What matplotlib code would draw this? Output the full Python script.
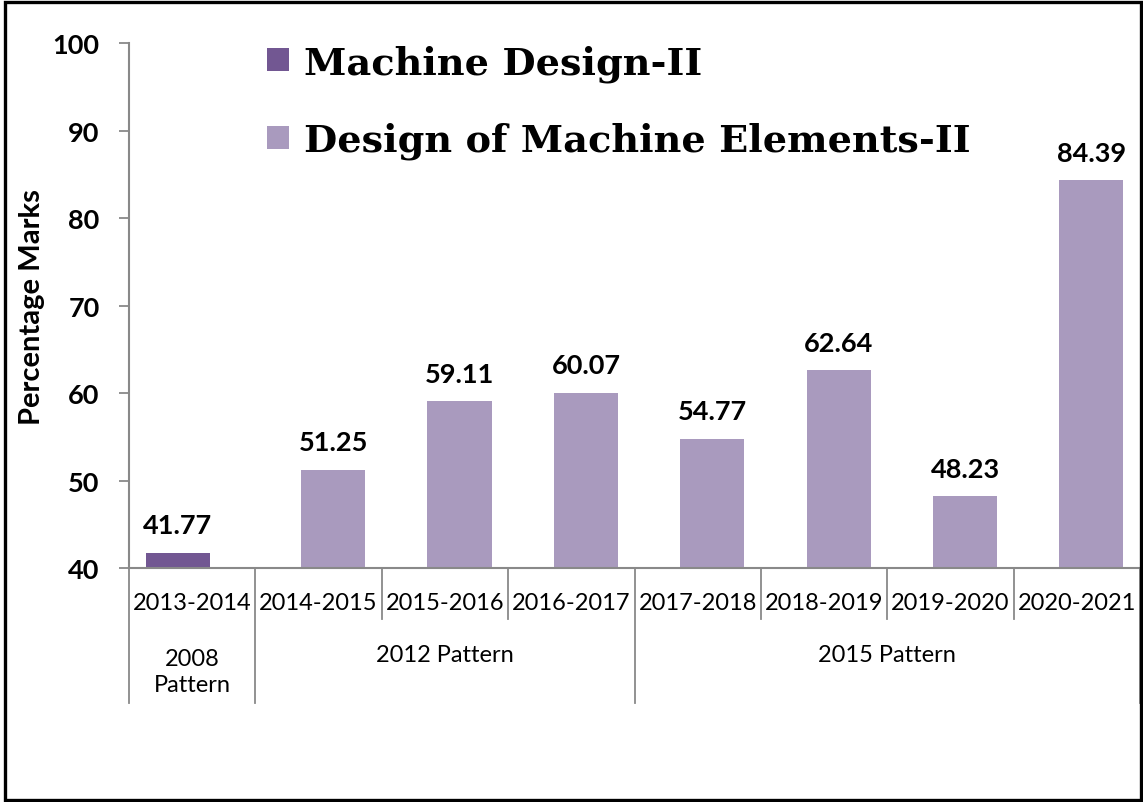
import matplotlib
matplotlib.use('Agg')
import matplotlib.pyplot as plt
import matplotlib.transforms as mtransforms
from matplotlib.patches import Rectangle
import numpy as np

plt.rcParams['font.family'] = ['Lato', 'DejaVu Sans']

# data
years = ['2013-2014', '2014-2015', '2015-2016', '2016-2017',
         '2017-2018', '2018-2019', '2019-2020', '2020-2021']
patterns = ['2008\nPattern', '2012 Pattern', '2015 Pattern']
pattern_sizes = [1, 3, 4]
md2_years = ['2013-2014']
md2_marks = [41.77]
dme2_years = ['2014-2015', '2015-2016', '2016-2017', '2017-2018',
              '2018-2019', '2019-2020', '2020-2021']
dme2_marks = [51.25, 59.11, 60.07, 54.77, 62.64, 48.23, 84.39]

DARK = '#725792'
LIGHT = '#A99ABE'
GRID = '#898989'

fig = plt.figure(figsize=(11.43, 8.03), dpi=100)
ax = fig.add_axes([0.1129, 0.2914, 0.8845, 0.6532])

bw = 0.507
off = 0.115
x_md = np.array([years.index(y) for y in md2_years])
x_dme = np.array([years.index(y) for y in dme2_years])
b1 = ax.bar(x_md - off, np.array(md2_marks) - 40, bw, bottom=40, color=DARK,
            label='Machine Design-II')
b2 = ax.bar(x_dme + off, np.array(dme2_marks) - 40, bw, bottom=40, color=LIGHT,
            label='Design of Machine Elements-II')

for xs, vals in ((x_md - off, md2_marks), (x_dme + off, dme2_marks)):
    for x, v in zip(xs, vals):
        ax.annotate(f'{v:.2f}', (x, v), xytext=(0, 14), textcoords='offset points',
                    ha='center', va='baseline', fontsize=19.5, fontweight='bold')

ax.set_xlim(-0.5, len(years) - 0.5)
ax.set_ylim(40, 100)
ax.set_yticks(range(40, 101, 10))
ax.tick_params(axis='y', length=7.2, width=1.3, color=GRID, pad=14,
               labelsize=19.5)
for lab in ax.get_yticklabels():
    lab.set_fontweight('bold')
ax.set_xticks([])
for s in ('top', 'right'):
    ax.spines[s].set_visible(False)
for s in ('left', 'bottom'):
    ax.spines[s].set_color(GRID)
    ax.spines[s].set_linewidth(1.5)

ax.set_ylabel('Percentage Marks', fontsize=21, fontweight='bold')
ax.yaxis.set_label_coords(-0.083, 0.5)

# category axis table below the plot
trans = mtransforms.blended_transform_factory(ax.transData, ax.transAxes)
row1 = -0.0972
row2 = -0.2574
for i, y in enumerate(years):
    ax.text(i, -0.065, y, transform=trans, ha='center', va='center', fontsize=17)
bounds = np.cumsum([0] + pattern_sizes) - 0.5
for i in range(len(years) + 1):
    xb = i - 0.5
    low = row2 if xb in bounds else row1
    ax.plot([xb, xb], [0, low], transform=trans, color=GRID, lw=1.3,
            clip_on=False)
for p, n, start in zip(patterns, pattern_sizes, bounds[:-1]):
    ax.text(start + n / 2, -0.1645 if '\n' not in p else -0.1975, p,
            transform=trans, ha='center', va='center', fontsize=17,
            linespacing=1.3)

leg = ax.legend(handles=[b1, b2], loc='upper left', bbox_to_anchor=(0.118, 1.035),
                frameon=False, borderpad=0, handlelength=0.56, handleheight=0.56,
                handletextpad=0.4, labelspacing=1.05,
                prop={'family': 'DejaVu Serif', 'weight': 'bold', 'size': 27.5})

fig.patches.append(Rectangle((0.004, 0.003), 0.994, 0.993, transform=fig.transFigure,
                             fill=False, edgecolor='black', lw=2.4))

fig.savefig('out.png', dpi=100)
